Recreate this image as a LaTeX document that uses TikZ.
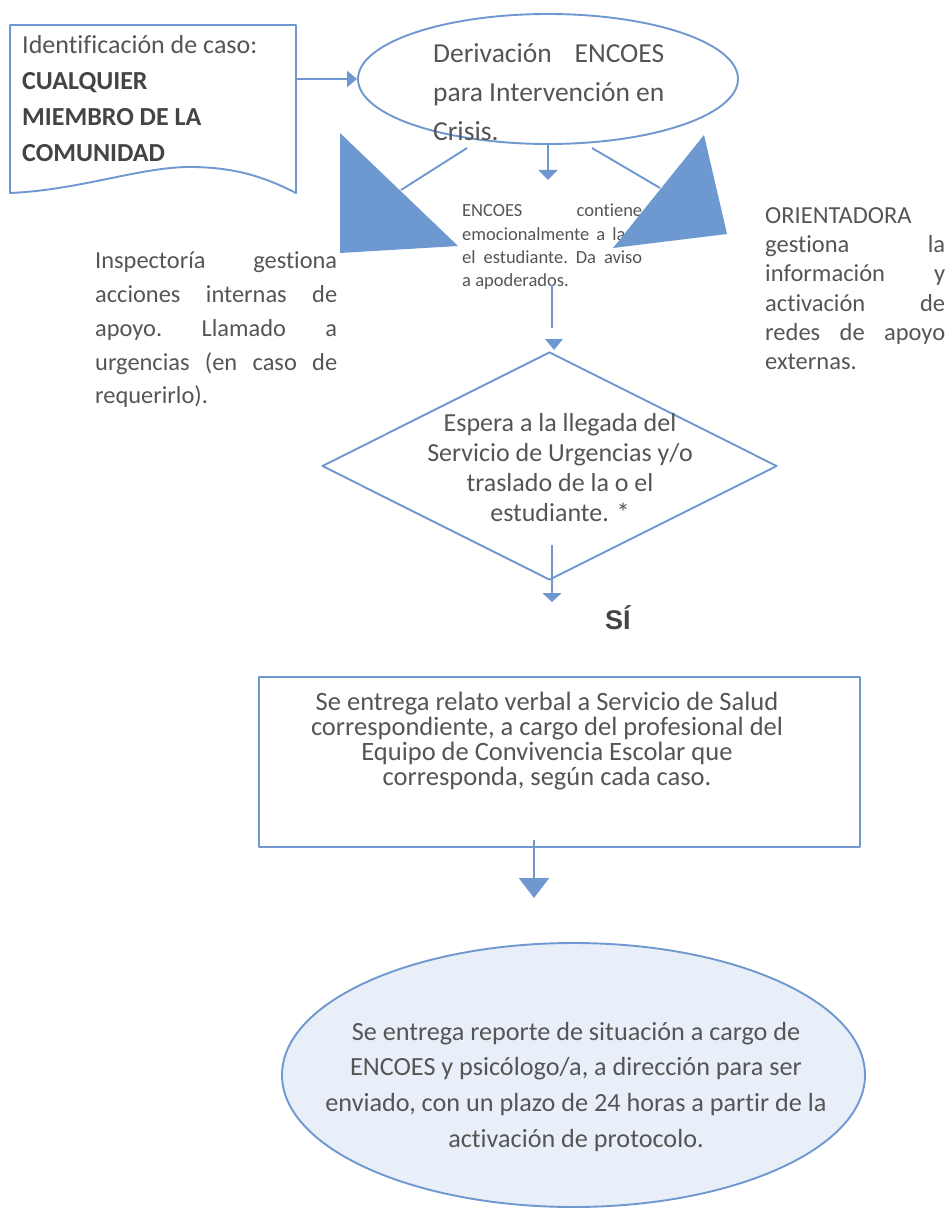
\documentclass[tikz,border=0pt]{standalone}
\usepackage{fontspec}
\setmainfont{Carlito}[Ligatures=NoCommon]
\newfontfamily\arialfont{Liberation Sans}
\usetikzlibrary{arrows.meta,shapes.geometric}
\definecolor{lineblue}{HTML}{7098D0}
\definecolor{trifill}{HTML}{6E98D0}
\definecolor{ovalfill}{HTML}{E9EFF9}
\definecolor{txt}{HTML}{555555}
\definecolor{txtdark}{HTML}{444444}
\newcommand\ctrline[2]{\hbox to #1{\hfil #2\hfil}}
\newcommand\jline[2]{\hbox to #1{#2}}
\begin{document}
\begin{tikzpicture}[x=1pt,y=-1pt,
  conn/.style={draw=lineblue,line width=1.9pt},
  shapeline/.style={draw=lineblue,line width=1.9pt,line join=round},
  tri/.style={fill=trifill},
  lefttxt/.style={inner sep=0pt,anchor=base west,text=txt},
  ctrtxt/.style={inner sep=0pt,anchor=base,text=txt}]
\useasboundingbox (0,0) rectangle (949,1214);
\fill[white] (0,0) rectangle (949,1214);

% document shape (case identification)
\draw[shapeline] (10,193) -- (10,25) -- (296,25) -- (296,193)
  .. controls (270,180) and (240,167) .. (190,167)
  .. controls (140,167) and (80,190) .. (10,193) -- cycle;
\node[lefttxt,font=\fontsize{26}{36}\selectfont] (casotxt) at (22,54)
  {\vtop{\hbox{Identificación de caso:}\hbox{\color{txtdark}\bfseries CUALQUIER}%
   \hbox{\color{txtdark}\bfseries MIEMBRO DE LA}\hbox{\color{txtdark}\bfseries COMUNIDAD}}};
\coordinate (casoE) at (296,79);

% top ellipse
\node[shapeline,ellipse,minimum width=380pt,minimum height=130pt,inner sep=0pt] (deriv) at (548,79) {};
\node[lefttxt,font=\fontsize{27.5}{39}\selectfont] (derivtxt) at (433,63)
  {\vtop{\jline{231pt}{Derivación\hfill ENCOES}\hbox{para Intervención en}\hbox{Crisis.}}};

\draw[conn,-{Triangle[length=10pt,width=16pt]}] (casoE) -- (deriv.west);

% central arrow under ellipse
\coordinate (cmid) at (548,180);
\draw[conn,-{Triangle[length=10pt,width=19pt]}] (deriv.south) -- (cmid);

% diagonal connectors
\coordinate (dl1) at (467,148);
\coordinate (dl2) at (401,190);
\coordinate (dr1) at (592,148);
\coordinate (dr2) at (660,188);
\draw[conn] (dl1) -- (dl2);
\draw[conn] (dr1) -- (dr2);

% ENCOES text
\node[lefttxt,font=\fontsize{18.5}{23.4}\selectfont] (encoestxt) at (462,216.7)
  {\vtop{\jline{180pt}{ENCOES\hfill contiene}\jline{180pt}{emocionalmente\hfill a\hfill la\hfill o}%
   \jline{180pt}{el\hfill estudiante.\hfill Da\hfill aviso}\hbox{a apoderados.}}};

% big triangles
\fill[tri] (340,133) -- (340,253) -- (458,246) -- cycle;
\fill[tri] (704,135) -- (727,234) -- (613,248) -- cycle;

% left and right texts
\node[lefttxt,font=\fontsize{24.4}{33.7}\selectfont] (insptxt) at (95,269)
  {\vtop{\jline{242pt}{Inspectoría\hfill gestiona}\jline{242pt}{acciones\hfill internas\hfill de}%
   \jline{242pt}{apoyo.\hfill Llamado\hfill a}\jline{242pt}{urgencias\hfill (en\hfill caso\hfill de}%
   \hbox{requerirlo).}}};
\node[lefttxt,font=\fontsize{24.5}{29.3}\selectfont] (oritxt) at (765,223.3)
  {\vtop{\hbox{ORIENTADORA}\jline{180pt}{gestiona\hfill la}\jline{180pt}{información\hfill y}%
   \jline{180pt}{activación\hfill de}\jline{180pt}{redes\hfill de\hfill apoyo}\hbox{externas.}}};

% connector ENCOES -> decision
\coordinate (e1) at (552,285);
\coordinate (e2) at (552,328);
\draw[conn] (e1) -- (e2);
\fill[tri] (545,339) -- (563,339) -- (554,350) -- cycle;

% decision diamond
\node[shapeline,diamond,minimum width=455pt,minimum height=228pt,inner sep=0pt] (decision) at (549.5,466) {};
\node[ctrtxt,font=\fontsize{26}{30}\selectfont] (esperatxt) at (560,431.7)
  {\vtop{\ctrline{320pt}{Espera a la llegada del}\ctrline{320pt}{Servicio de Urgencias y/o}%
   \ctrline{320pt}{traslado de la o el}\ctrline{320pt}{estudiante. *}}};

\coordinate (d1) at (552,545);
\coordinate (d2) at (552,602);
\draw[conn,-{Triangle[length=9pt,width=19pt]}] (d1) -- (d2);
\node[lefttxt,text=txtdark,font=\arialfont\bfseries\fontsize{27}{30}\selectfont] (si) at (605,629) {SÍ};

% rectangle
\node[shapeline,rectangle,minimum width=601pt,minimum height=170pt,inner sep=0pt] (relato) at (559.5,762) {};
\node[ctrtxt,font=\fontsize{26.5}{25}\selectfont] (relatotxt) at (547,710)
  {\vtop{\ctrline{520pt}{Se entrega relato verbal a Servicio de Salud}%
   \ctrline{520pt}{correspondiente, a cargo del profesional del}%
   \ctrline{520pt}{Equipo de Convivencia Escolar que}%
   \ctrline{520pt}{corresponda, según cada caso.}}};

\coordinate (r1) at (534,840);
\coordinate (r2) at (534,898);
\draw[conn,-{Triangle[length=20pt,width=30pt]}] (r1) -- (r2);

% bottom ellipse
\node[shapeline,fill=ovalfill,ellipse,minimum width=583pt,minimum height=264pt,inner sep=0pt] (reporte) at (573.5,1075) {};
\node[ctrtxt,font=\fontsize{26.2}{35.7}\selectfont] (reportetxt) at (576,1040)
  {\vtop{\ctrline{540pt}{Se entrega reporte de situación a cargo de}%
   \ctrline{540pt}{ENCOES y psicólogo/a, a dirección para ser}%
   \ctrline{540pt}{enviado, con un plazo de 24 horas a partir de la}%
   \ctrline{540pt}{activación de protocolo.}}};
\end{tikzpicture}
\end{document}
